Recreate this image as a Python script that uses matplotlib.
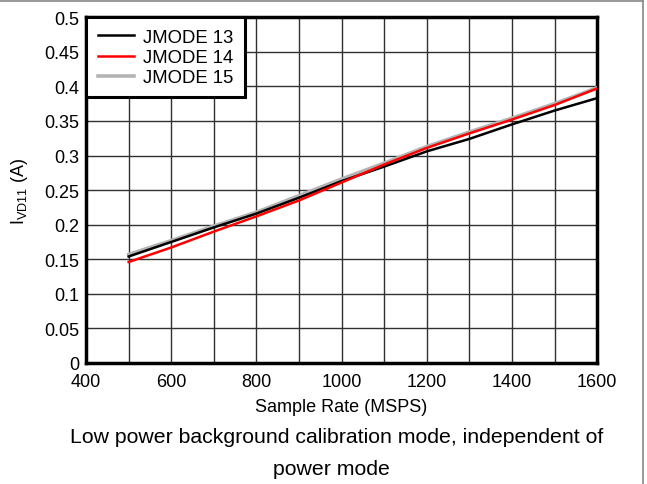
import matplotlib
matplotlib.use("Agg")
import matplotlib.pyplot as plt
from matplotlib.lines import Line2D

plt.rcParams['font.family'] = ['Liberation Sans', 'DejaVu Sans']

# sample rate (MSPS)
rate = [500, 600, 700, 800, 900, 1000, 1100, 1200, 1300, 1400, 1500, 1600]
# IVD11 current (A) per JMODE
jmode13 = [0.154, 0.175, 0.196, 0.216, 0.239, 0.263, 0.284, 0.306, 0.324, 0.345, 0.365, 0.383]
jmode14 = [0.146, 0.167, 0.190, 0.212, 0.235, 0.261, 0.287, 0.311, 0.332, 0.352, 0.373, 0.397]
jmode15 = [0.157, 0.177, 0.198, 0.218, 0.242, 0.266, 0.289, 0.313, 0.334, 0.354, 0.375, 0.398]

xticks = [400, 600, 800, 1000, 1200, 1400, 1600]
yticks = [0, 0.05, 0.1, 0.15, 0.2, 0.25, 0.3, 0.35, 0.4, 0.45, 0.5]
ytick_labels = ['0', '0.05', '0.1', '0.15', '0.2', '0.25', '0.3', '0.35', '0.4', '0.45', '0.5']

fig = plt.figure(figsize=(6.47, 4.85), dpi=100)
ax = fig.add_axes([0.133, 0.2495, 0.790, 0.713])

ax.plot(rate, jmode15, color='#b4b4b4', lw=2.6, label='JMODE 15', zorder=3)
ax.plot(rate, jmode13, color='black', lw=1.8, label='JMODE 13', zorder=4)
ax.plot(rate, jmode14, color='#ff0000', lw=1.8, label='JMODE 14', zorder=5)

ax.set_xlim(400, 1600)
ax.set_ylim(0, 0.5)
ax.set_xticks(xticks)
ax.set_xticks(range(400, 1601, 100), minor=True)
ax.set_yticks(yticks)
ax.set_yticklabels(ytick_labels)
ax.grid(True, which='both', color='#303030', lw=1.0)
ax.tick_params(which='both', length=0, labelsize=13)
ax.tick_params(axis='x', pad=7)
ax.tick_params(axis='y', pad=5)

for s in ax.spines.values():
    s.set_linewidth(2.5)
    s.set_color('black')

ax.set_xlabel('Sample Rate (MSPS)', fontsize=13, labelpad=6)
ax.set_ylabel(r'I$_{\mathregular{VD11}}$ (A)', fontsize=13, labelpad=10)

# legend order: 13, 14, 15
h, l = ax.get_legend_handles_labels()
order = [1, 2, 0]
leg = ax.legend([h[i] for i in order], [l[i] for i in order], loc='upper left',
                bbox_to_anchor=(0, 1), fontsize=13.3, fancybox=False,
                framealpha=1, edgecolor='black', borderaxespad=0,
                handlelength=1.95, handletextpad=0.5, labelspacing=0.17,
                borderpad=0.62, handleheight=0.6)
leg.get_frame().set_linewidth(2.2)
leg.set_zorder(10)

fig.text(0.52, 0.098, 'Low power background calibration mode, independent of',
         ha='center', va='center', fontsize=15.3)
fig.text(0.512, 0.032, 'power mode', ha='center', va='center', fontsize=15.3)

# figure border lines (top and right)
fig.add_artist(Line2D([0, 0.994], [0.996, 0.996], color='#888888', lw=1.2))
fig.add_artist(Line2D([0.994, 0.994], [0, 0.996], color='#888888', lw=1.2))

fig.savefig('out.png', dpi=100)
